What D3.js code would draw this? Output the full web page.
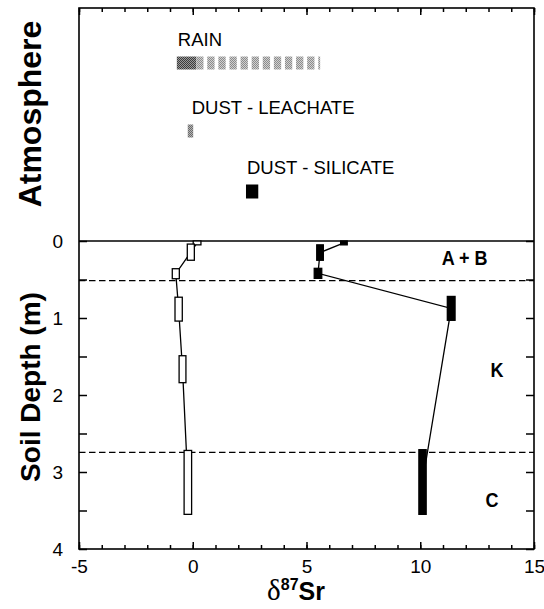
<!DOCTYPE html>
<html lang="en">
<head>
  <meta charset="UTF-8" />
  <title>Sr isotope profile</title>
  <script src="https://d3js.org/d3.v7.min.js"></script>
  <style>
    body { margin: 0; background: #fff; }
    svg { display: block; font-family: "Liberation Sans", Arial, sans-serif; }
    .tick text { font-size: 19px; fill: #000; }
    .tick line { stroke: #000; stroke-width: 1.5; }
  </style>
</head>
<body>
  <svg width="544" height="609"></svg>

  <script>
    // open boxes (left profile): depth interval and value range
    const openTop = [0, 0.04, 0.36, 0.73, 1.49, 2.72];
    const openBot = [0.05, 0.25, 0.49, 1.04, 1.84, 3.55];
    const openLo  = [0.02, -0.24, -0.9, -0.78, -0.6, -0.38];
    const openHi  = [0.36, 0.07, -0.59, -0.46, -0.3, -0.05];

    // filled boxes (right profile)
    const fillTop = [0, 0.05, 0.355, 0.72, 2.71];
    const fillBot = [0.05, 0.25, 0.485, 1.03, 3.55];
    const fillLo  = [6.5, 5.45, 5.34, 11.19, 9.94];
    const fillHi  = [6.79, 5.74, 5.67, 11.53, 10.26];

    // atmosphere sources
    const atmoNames = ["RAIN", "DUST - LEACHATE", "DUST - SILICATE"];
    const atmoLo    = [-0.7, -0.22, 2.34];
    const atmoHi    = [5.6, 0.02, 2.88];
    const rainCoreHi = 0.15;

    // horizon boundaries and labels
    const horizonBreaks = [0.515, 2.745];
    const horizonNames = ["A + B", "K", "C"];
    const horizonDepth = [0.31, 1.76, 3.46];
    const horizonX     = [11.95, 13.37, 13.15];

    const xMajor = [-5, 0, 5, 10, 15];
    const depthMajor = [0, 1, 2, 3, 4];

    const pLeft = 79, pRight = 534, pTop = 8, pBottom = 549;

    const svg = d3.select("svg");

    const x = d3.scaleLinear().domain([-5, 15]).range([pLeft, pRight]);
    const y = d3.scaleLinear().domain([0, 4]).range([241, pBottom]);
    const yAtmo = d3.scaleOrdinal().domain(atmoNames).range([63, 131, 191]);

    // dither-like patterns
    const defs = svg.append("defs");
    function checker(id, a, b) {
      const p = defs.append("pattern").attr("id", id)
        .attr("width", 2).attr("height", 2).attr("patternUnits", "userSpaceOnUse");
      p.append("rect").attr("width", 2).attr("height", 2).attr("fill", b);
      p.append("rect").attr("width", 1).attr("height", 1).attr("fill", a);
      p.append("rect").attr("x", 1).attr("y", 1).attr("width", 1).attr("height", 1).attr("fill", a);
    }
    checker("dark", "#3c3c3c", "#9a9a9a");
    checker("light", "#8c8c8c", "#d0d0d0");
    checker("mid", "#6a6a6a", "#b4b4b4");

    // axes: minor + major ticks pointing inward
    const xMinor = d3.range(-5, 15.01, 1);
    const dMinor = d3.range(0, 4.01, 0.5);
    const fmt = d => String(d);

    svg.append("g").attr("transform", `translate(0,${pBottom})`)
      .call(d3.axisBottom(x).tickValues(xMinor).tickSize(-4).tickFormat(""))
      .call(g => g.select(".domain").remove());
    svg.append("g").attr("transform", `translate(0,${pBottom})`)
      .call(d3.axisBottom(x).tickValues(xMajor).tickSize(-7).tickPadding(11).tickFormat(fmt))
      .call(g => g.select(".domain").remove());
    svg.append("g").attr("transform", `translate(0,${pTop})`)
      .call(d3.axisTop(x).tickValues(xMinor).tickSize(-4).tickFormat(""))
      .call(g => g.select(".domain").remove());
    svg.append("g").attr("transform", `translate(0,${pTop})`)
      .call(d3.axisTop(x).tickValues(xMajor).tickSize(-7).tickFormat(""))
      .call(g => g.select(".domain").remove());

    svg.append("g").attr("transform", `translate(${pLeft},0)`)
      .call(d3.axisLeft(y).tickValues(dMinor).tickSize(-8).tickPadding(16)
        .tickFormat(d => depthMajor.includes(d) ? fmt(d) : ""))
      .call(g => g.select(".domain").remove());
    svg.append("g").attr("transform", `translate(${pRight},0)`)
      .call(d3.axisRight(y).tickValues(dMinor).tickSize(-8).tickFormat(""))
      .call(g => g.select(".domain").remove());

    svg.selectAll(".tick text").attr("font-family", "Liberation Sans, Arial, sans-serif");

    // frame
    svg.append("rect")
      .attr("x", pLeft).attr("y", pTop)
      .attr("width", pRight - pLeft).attr("height", pBottom - pTop)
      .attr("fill", "none").attr("stroke", "#000").attr("stroke-width", 1.6);

    // surface line
    svg.append("line")
      .attr("x1", pLeft).attr("x2", pRight)
      .attr("y1", y(0)).attr("y2", y(0))
      .attr("stroke", "#000").attr("stroke-width", 1.6);

    // horizon boundaries
    svg.selectAll(".brk").data(horizonBreaks).enter().append("line")
      .attr("x1", pLeft).attr("x2", pRight)
      .attr("y1", d => y(d)).attr("y2", d => y(d))
      .attr("stroke", "#000").attr("stroke-width", 1.4)
      .attr("stroke-dasharray", "6.5,3.5");

    svg.selectAll(".hz").data(horizonNames).enter().append("text")
      .attr("x", (d, i) => x(horizonX[i]))
      .attr("y", (d, i) => y(horizonDepth[i]))
      .attr("text-anchor", "middle")
      .attr("font-size", 20).attr("font-weight", "bold")
      .attr("transform", (d, i) => `translate(${x(horizonX[i])},0) scale(0.9,1) translate(${-x(horizonX[i])},0)`)
      .text(d => d);

    // profiles
    const open = openTop.map((t, i) => ({ t, b: openBot[i], lo: openLo[i], hi: openHi[i] }));
    const filled = fillTop.map((t, i) => ({ t, b: fillBot[i], lo: fillLo[i], hi: fillHi[i] }));

    const line = d3.line()
      .x(d => x((d.lo + d.hi) / 2))
      .y(d => y((d.t + d.b) / 2));

    [[open, "#fff"], [filled, "#000"]].forEach(([data, fill]) => {
      svg.append("path").datum(data)
        .attr("d", line).attr("fill", "none")
        .attr("stroke", "#000").attr("stroke-width", 1.3);
      svg.append("g").selectAll("rect").data(data).enter().append("rect")
        .attr("x", d => x(d.lo))
        .attr("y", d => y(d.t))
        .attr("width", d => x(d.hi) - x(d.lo))
        .attr("height", d => y(d.b) - y(d.t))
        .attr("fill", fill).attr("stroke", "#000").attr("stroke-width", 1.3);
    });

    // atmosphere
    const barH = 13;
    // rain: dark core, then dashed lighter range
    svg.append("rect")
      .attr("x", x(atmoLo[0])).attr("y", yAtmo("RAIN") - barH / 2)
      .attr("width", x(rainCoreHi) - x(atmoLo[0])).attr("height", barH)
      .attr("fill", "url(#dark)");
    svg.append("line")
      .attr("x1", x(rainCoreHi)).attr("x2", x(atmoHi[0]))
      .attr("y1", yAtmo("RAIN")).attr("y2", yAtmo("RAIN"))
      .attr("stroke", "url(#light)").attr("stroke-width", barH)
      .attr("stroke-dasharray", "7.3,3.8");
    svg.append("rect")
      .attr("x", x(atmoLo[1])).attr("y", yAtmo(atmoNames[1]) - barH / 2)
      .attr("width", x(atmoHi[1]) - x(atmoLo[1])).attr("height", barH)
      .attr("fill", "url(#mid)");
    svg.append("rect")
      .attr("x", x(atmoLo[2])).attr("y", yAtmo(atmoNames[2]) - barH / 2)
      .attr("width", x(atmoHi[2]) - x(atmoLo[2])).attr("height", 14)
      .attr("fill", "#000");

    svg.selectAll(".atl").data(atmoNames).enter().append("text")
      .attr("x", (d, i) => x(atmoLo[i]) + (i === 1 ? 4 : 1))
      .attr("y", d => yAtmo(d) - barH / 2 - 11)
      .attr("font-size", 18.5)
      .text(d => d);

    // axis titles
    svg.append("text")
      .attr("transform", `translate(41,${114}) rotate(-90)`)
      .attr("text-anchor", "middle")
      .attr("font-size", 32).attr("font-weight", "bold")
      .text("Atmosphere");
    svg.append("text")
      .attr("transform", `translate(40,${387}) rotate(-90)`)
      .attr("text-anchor", "middle")
      .attr("font-size", 28).attr("font-weight", "bold")
      .text("Soil Depth (m)");

    const xt = svg.append("text")
      .attr("x", 296).attr("y", 600)
      .attr("text-anchor", "middle");
    xt.append("tspan").attr("font-family", "Liberation Serif, Times New Roman, serif")
      .attr("font-size", 29).text("δ");
    xt.append("tspan").attr("font-size", 16).attr("font-weight", "bold")
      .attr("dy", -10).text("87");
    xt.append("tspan").attr("font-size", 25).attr("font-weight", "bold")
      .attr("dy", 10).text("Sr");
  </script>
</body>
</html>
